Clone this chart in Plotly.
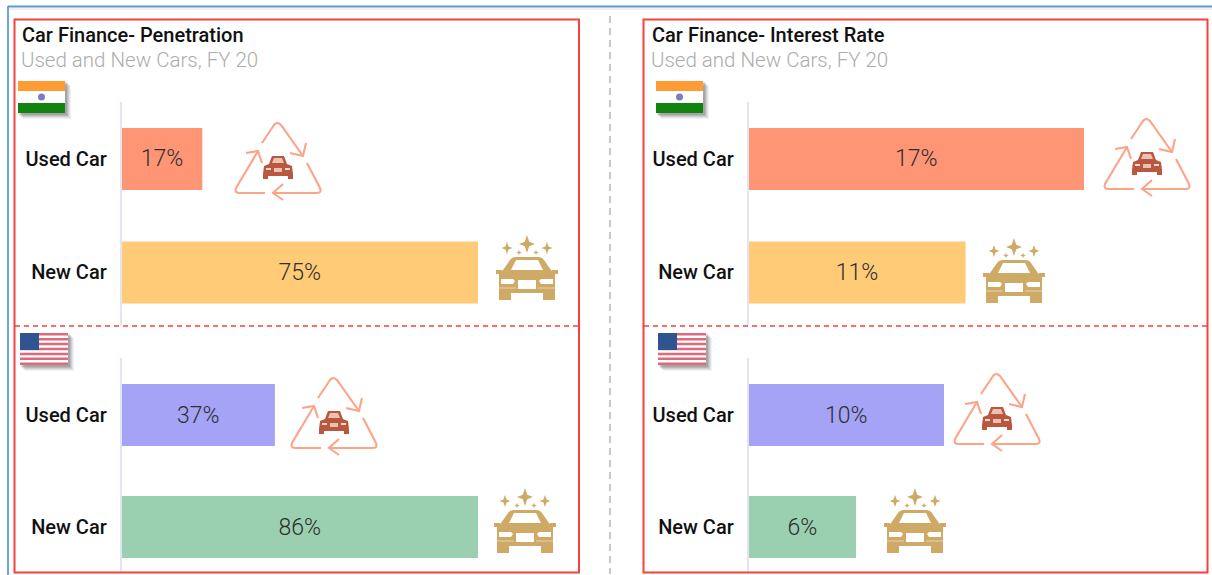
import plotly.graph_objects as go

W, H = 1212, 575

categories = ["Used Car", "New Car"]
india_penetration = [17, 75]
us_penetration = [37, 86]
india_rate = [17, 11]
us_rate = [10, 5.5]
india_penetration_labels = ["17%", "75%"]
us_penetration_labels = ["37%", "86%"]
india_rate_labels = ["17%", "11%"]
us_rate_labels = ["10%", "6%"]
india_colors = ["#FE9676", "#FFCB76"]
us_colors = ["#A4A3F6", "#9AD0AF"]
titles = ["Car Finance- Penetration", "Car Finance- Interest Rate"]
subtitle = "Used and New Cars, FY 20"

FONT = "Roboto"
RED = "#F5413F"
RECYCLE = "#FBA488"
CAR_RED = "#B9583F"
GOLD = "#CFAA66"


def px(x):
    return x / W


def py(y):
    return 1 - y / H


shapes = []
annotations = []


def path(cmds, fill=None, line=None, lw=0.0):
    """cmds: list of ('M'|'L'|'Q'|'Z', x, y, ...) in pixels."""
    out = []
    for c in cmds:
        op, nums = c[0], c[1:]
        vals = []
        for i in range(0, len(nums), 2):
            vals.append(f"{px(nums[i]):.5f},{py(nums[i + 1]):.5f}")
        out.append(op + " " + " ".join(vals))
    shapes.append(dict(type="path", xref="paper", yref="paper", layer="above",
                       path=" ".join(out),
                       fillcolor=fill if fill else "rgba(0,0,0,0)",
                       line=dict(color=line if line else "rgba(0,0,0,0)", width=lw)))


def rect(x0, y0, x1, y1, fill=None, line=None, lw=0, dash=None):
    ln = dict(color=line if line else "rgba(0,0,0,0)", width=lw)
    if dash:
        ln["dash"] = dash
    shapes.append(dict(type="rect", xref="paper", yref="paper", layer="above",
                       x0=px(x0), x1=px(x1), y0=py(y0), y1=py(y1),
                       fillcolor=fill if fill else "rgba(0,0,0,0)", line=ln))


def seg(x0, y0, x1, y1, color, lw, dash=None):
    ln = dict(color=color, width=lw)
    if dash:
        ln["dash"] = dash
    shapes.append(dict(type="line", xref="paper", yref="paper", layer="above",
                       x0=px(x0), x1=px(x1), y0=py(y0), y1=py(y1), line=ln))


def recycle(cx, cy):
    c = RECYCLE
    lw = 2.1
    # right arm (over the apex)
    path([("M", cx - 16, cy - 19), ("L", cx - 4, cy - 37),
          ("Q", cx - 1, cy - 41, cx + 3, cy - 37), ("L", cx + 25, cy - 6)], line=c, lw=lw)
    path([("M", cx + 12, cy - 9), ("L", cx + 25, cy - 6), ("L", cx + 28, cy - 19)], line=c, lw=lw)
    # bottom arm
    path([("M", cx + 29, cy + 1), ("L", cx + 42, cy + 26),
          ("Q", cx + 44, cy + 31, cx + 39, cy + 31), ("L", cx - 5, cy + 31)], line=c, lw=lw)
    path([("M", cx + 5, cy + 22), ("L", cx - 5, cy + 31), ("L", cx + 5, cy + 38)], line=c, lw=lw)
    # left arm
    path([("M", cx - 13, cy + 31), ("L", cx - 38, cy + 31),
          ("Q", cx - 44, cy + 31, cx - 42, cy + 26), ("L", cx - 20, cy - 11)], line=c, lw=lw)
    path([("M", cx - 32, cy - 9), ("L", cx - 20, cy - 11), ("L", cx - 16, cy + 1)], line=c, lw=lw)
    # small car
    k = CAR_RED
    ty = cy - 7
    path([("M", cx - 9, ty + 9), ("L", cx - 6, ty + 1), ("L", cx + 6, ty + 1), ("L", cx + 9, ty + 9),
          ("L", cx + 14, ty + 11), ("L", cx + 15, ty + 19), ("L", cx + 15, ty + 24), ("L", cx + 10, ty + 24),
          ("L", cx + 10, ty + 21), ("L", cx - 10, ty + 21), ("L", cx - 10, ty + 24), ("L", cx - 15, ty + 24),
          ("L", cx - 15, ty + 19), ("L", cx - 14, ty + 11), ("Z",)], fill=k)
    path([("M", cx - 6, ty + 8), ("L", cx - 4, ty + 3), ("L", cx + 4, ty + 3), ("L", cx + 6, ty + 8), ("Z",)],
         fill="#E9C2B4")
    rect(cx - 12, ty + 13, cx - 7, ty + 15, fill="#F5DCD3")
    rect(cx + 7, ty + 13, cx + 12, ty + 15, fill="#F5DCD3")
    rect(cx - 4, ty + 13, cx + 4, ty + 17, fill="#E9C2B4")


def star(cx, cy, rx, ry, color):
    s = rx * 0.28
    path([("M", cx, cy - ry), ("L", cx + s, cy - s), ("L", cx + rx, cy), ("L", cx + s, cy + s),
          ("L", cx, cy + ry), ("L", cx - s, cy + s), ("L", cx - rx, cy), ("L", cx - s, cy - s), ("Z",)], fill=color)


def new_car(cx, top):
    """top: y of the tallest sparkle."""
    g = GOLD
    star(cx, top + 9, 8, 9, g)
    star(cx - 20, top + 13, 5.5, 6, g)
    star(cx + 20, top + 13, 5.5, 6, g)
    star(cx - 8, top + 17.5, 2.8, 2.8, g)
    star(cx + 9, top + 17.5, 2.8, 2.8, g)
    t = top + 22
    # body
    path([("M", cx - 24, t + 13), ("L", cx - 17, t + 3), ("Q", cx - 15, t, cx - 11, t), ("L", cx + 11, t),
          ("Q", cx + 15, t, cx + 17, t + 3), ("L", cx + 24, t + 13),
          ("L", cx + 28, t + 17), ("L", cx + 28, t + 36), ("L", cx - 28, t + 36), ("L", cx - 28, t + 17), ("Z",)],
         fill=g)
    # mirrors
    rect(cx - 31, t + 13, cx - 25, t + 17, fill=g)
    rect(cx + 25, t + 13, cx + 31, t + 17, fill=g)
    # wheels
    rect(cx - 28, t + 36, cx - 16, t + 43, fill=g)
    rect(cx + 16, t + 36, cx + 28, t + 43, fill=g)
    # windshield
    path([("M", cx - 16, t + 13), ("L", cx - 11, t + 3), ("L", cx + 11, t + 3), ("L", cx + 16, t + 13), ("Z",)],
         fill="white")
    # lights and grille
    path([("M", cx - 26, t + 22), ("L", cx - 14, t + 22), ("L", cx - 12, t + 24), ("L", cx - 14, t + 27),
          ("L", cx - 26, t + 27), ("Z",)], fill="white")
    path([("M", cx + 26, t + 22), ("L", cx + 14, t + 22), ("L", cx + 12, t + 24), ("L", cx + 14, t + 27),
          ("L", cx + 26, t + 27), ("Z",)], fill="white")
    rect(cx - 9, t + 23, cx + 9, t + 32, fill="white")
    seg(cx - 28, t + 31, cx - 11, t + 31, "#E5D3AE", 1)
    seg(cx + 11, t + 31, cx + 28, t + 31, "#E5D3AE", 1)


def shadow(x0, y0, x1, y1):
    for off, a in [(6, 0.07), (5, 0.09), (4, 0.12), (3, 0.15), (2, 0.18)]:
        rect(x0 + off - 1, y0 + off - 1, x1 + off, y1 + off, fill=f"rgba(70,70,70,{a})")


def flag_india(x, y):
    shadow(x, y, x + 47, y + 32)
    rect(x, y, x + 47, y + 10, fill="#FF9B33")
    rect(x, y + 10, x + 47, y + 22, fill="white")
    rect(x, y + 22, x + 47, y + 32, fill="#13830F")
    shapes.append(dict(type="circle", xref="paper", yref="paper", layer="above",
                       x0=px(x + 20), x1=px(x + 27), y0=py(y + 12.5), y1=py(y + 19.5),
                       fillcolor="#7C7CC4", line=dict(width=0)))


def flag_us(x, y):
    shadow(x, y, x + 48, y + 32)
    rect(x, y, x + 48, y + 32, fill="white")
    n = 13
    h = 32 / n
    for i in range(0, n, 2):
        rect(x, y + i * h, x + 48, y + (i + 1) * h, fill="#DC6A7C")
    rect(x, y, x + 19, y + 17, fill="#2F5490")


# frame and panels
seg(8, 6.5, W, 6.5, "#5B9BD5", 1.8)
seg(8, 6, 8, H, "#5B9BD5", 1.8)
seg(9, 9, W, 9, "#FBD5D5", 1)
rect(14.5, 19.5, 579, 572.5, line=RED, lw=2)
rect(643.5, 19.5, 1207.5, 572.5, line=RED, lw=2)
seg(15, 326, 578, 326, RED, 1.6, dash="5px,4px")
seg(644, 326, 1207, 326, RED, 1.6, dash="5px,4px")
seg(610, 16, 610, 574, "#A6A6A6", 1.2, dash="7px,5px")

for x, title in zip([20, 650], titles):
    annotations.append(dict(text=title, x=px(x), y=py(35), xref="paper", yref="paper",
                            xanchor="left", yanchor="middle", showarrow=False,
                            font=dict(family=FONT, size=20, color="#111111", weight=500)))
    annotations.append(dict(text=subtitle, x=px(x - 1), y=py(60), xref="paper", yref="paper",
                            xanchor="left", yanchor="middle", showarrow=False,
                            font=dict(family=FONT, size=20.5, color="#ACACAC", weight=300)))

flag_india(18, 81)
flag_india(656, 81)
flag_us(20, 333)
flag_us(658, 333)
recycle(278, 162)
recycle(334, 417)
recycle(1147, 158)
recycle(997, 413)
new_car(527, 235)
new_car(525, 488)
new_car(1014, 238)
new_car(915, 488)

panels = [
    (india_penetration, india_penetration_labels, india_colors, 75, 121.5, 478, 102, 325, -0.502, 1.463, 0.454),
    (us_penetration, us_penetration_labels, us_colors, 86, 121.5, 478, 358, 573, -0.509, 1.41, 0.446),
    (india_rate, india_rate_labels, india_colors, 17, 748.5, 1084, 102, 325, -0.502, 1.463, 0.454),
    (us_rate, us_rate_labels, us_colors, 10, 748.5, 944, 358, 573, -0.509, 1.41, 0.446),
]

fig = go.Figure()
layout_axes = {}
for i, (vals, labels, colors, xmax, x0, x1, y0, y1, r0, r1, gap) in enumerate(panels):
    n = "" if i == 0 else str(i + 1)
    fig.add_trace(go.Bar(
        y=categories, x=vals, orientation="h", width=1 - gap,
        xaxis="x" + n, yaxis="y" + n, text=labels, textposition="inside",
        insidetextanchor="middle", textangle=0, constraintext="none",
        textfont=dict(family=FONT, size=23, color="#2E2E2E", weight=300),
        marker=dict(color=colors, line=dict(width=0)), hoverinfo="skip", showlegend=False))
    layout_axes["xaxis" + n] = dict(domain=[px(x0), px(x1)], range=[0, xmax], visible=False,
                                    anchor="y" + n, fixedrange=True)
    layout_axes["yaxis" + n] = dict(domain=[py(y1), py(y0)], range=[r1, r0], type="category",
                                    anchor="x" + n, showline=True, linecolor="#E2E5F1", linewidth=1.5,
                                    showgrid=False, zeroline=False, ticks="", ticklabelstandoff=9,
                                    tickfont=dict(family=FONT, size=20, color="#111111", weight=500),
                                    fixedrange=True)

fig.update_layout(width=W, height=H, margin=dict(l=0, r=0, t=0, b=0), paper_bgcolor="white",
                  plot_bgcolor="white", shapes=shapes, annotations=annotations, **layout_axes)
fig.write_html("out.html", config={"displayModeBar": False},
               post_script="document.body.style.margin='0';document.documentElement.style.overflow='hidden';")
